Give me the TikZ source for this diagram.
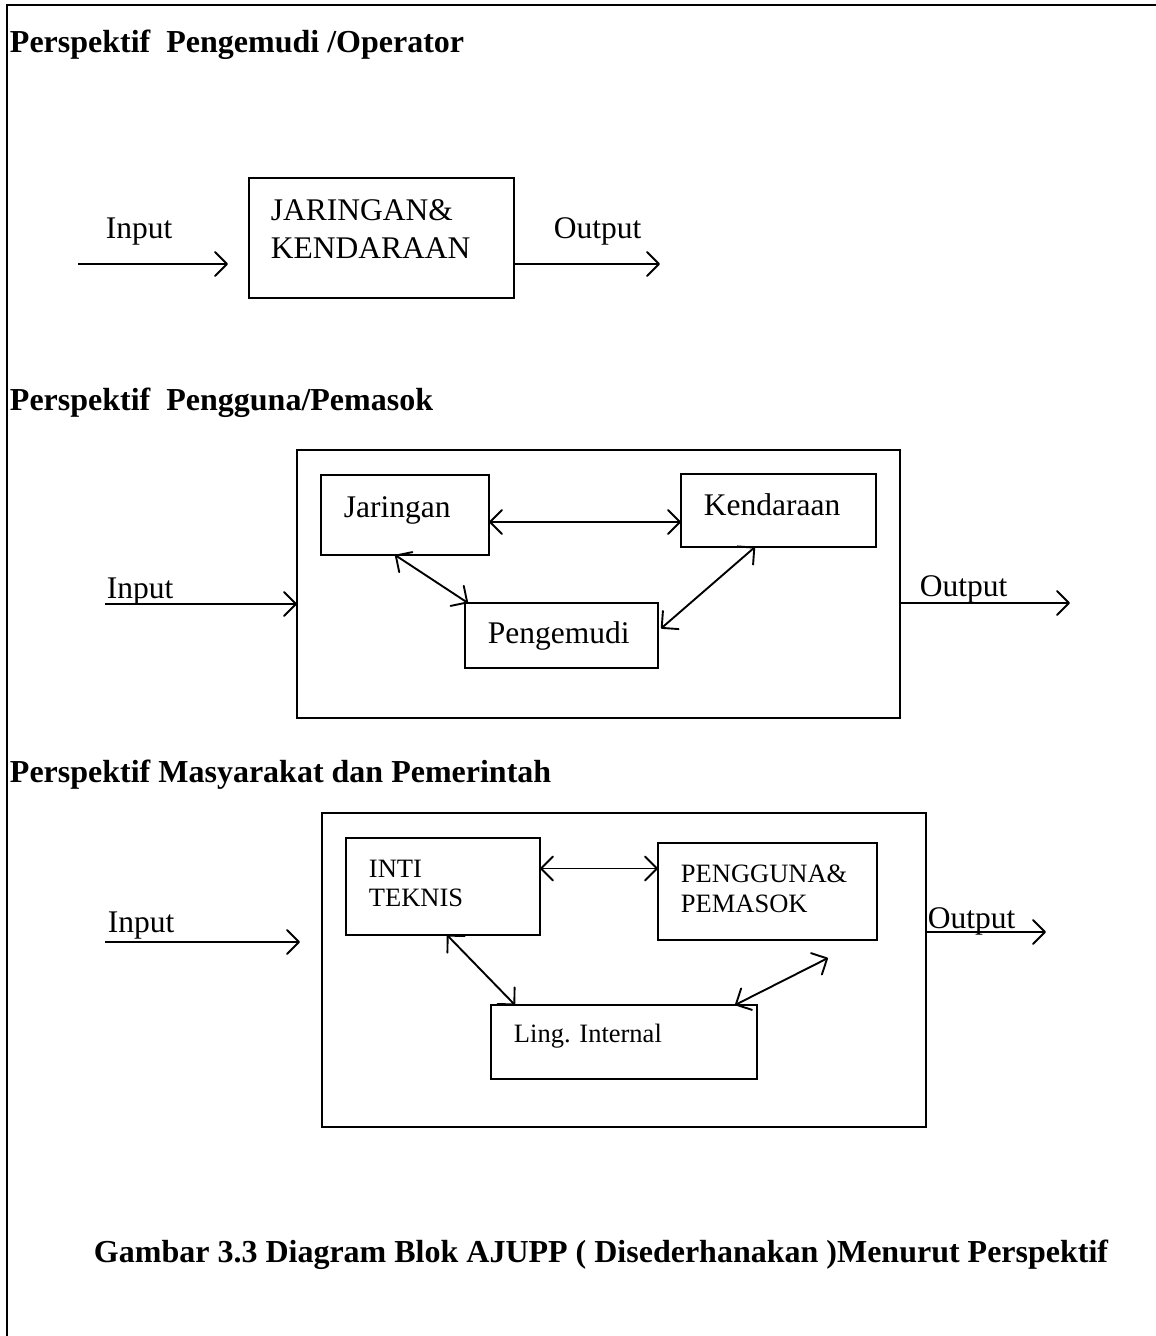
\documentclass[tikz,border=0pt]{standalone}
\usepackage{fontspec}
\setmainfont{Liberation Serif}
\usetikzlibrary{arrows.meta}
\begin{document}
\begin{tikzpicture}[x=1pt,y=-1pt,
  line width=1.9pt,
  blk/.style={draw, line width=1.9pt, anchor=north west, inner sep=0pt, outer sep=0pt},
  txt/.style={anchor=base west, inner sep=0pt, font=\fontsize{31.5}{36}\selectfont},
  stxt/.style={anchor=base west, inner sep=0pt, font=\fontsize{26.5}{30}\selectfont},
  head/.style={anchor=base west, inner sep=0pt, font=\bfseries\fontsize{32}{36}\selectfont},
  arr/.style={-{Straight Barb[length=12pt,width=24pt,round]}},
  darr/.style={{Straight Barb[length=12pt,width=24pt,round]}-{Straight Barb[length=12pt,width=24pt,round]}}
]
\useasboundingbox (0,0) rectangle (1156,1336);
% frame lines
\coordinate (ftl) at (7,5);
\coordinate (ftr) at (1156,5);
\coordinate (fbl) at (7,1336);
\draw[line width=1.9pt] (ftr) -- (ftl) -- (fbl);

% ---------- Section 1
\node[head] (h1) at (9,52) {Perspektif\ \ Pengemudi /Operator};
\node[blk, minimum width=265pt, minimum height=120pt] (jk) at (249,178) {};
\node[txt] (jkt1) at (270,220) {JARINGAN\&};
\node[txt] (jkt2) at (270,258) {KENDARAAN};
\node[txt] (in1l) at (105,238) {Input};
\node[txt] (out1l) at (553,238) {Output};
\coordinate (in1s) at (78,264);
\coordinate (in1e) at (228,264);
\coordinate (out1e) at (660,264);
\draw[arr] (in1s) -- (in1e);
\draw[arr] ([yshift=-26pt]jk.east) -- (out1e);

% ---------- Section 2
\node[head] (h2) at (9,410) {Perspektif\ \ Pengguna/Pemasok};
\node[blk, minimum width=603pt, minimum height=268pt] (o2) at (297,450) {};
\node[blk, minimum width=168pt, minimum height=80pt] (jar) at (321,475) {};
\node[blk, minimum width=195pt, minimum height=73pt] (ken) at (681,474) {};
\node[blk, minimum width=193pt, minimum height=65pt] (peng) at (465,603) {};
\node[txt] (jart) at (343,517) {Jaringan};
\node[txt] (kent) at (703,515) {Kendaraan};
\node[txt] (pengt) at (487,643) {Pengemudi};
\node[txt] (in2l) at (106,598) {Input};
\node[txt] (out2l) at (919,596) {Output};
\coordinate (in2s) at (105,604);
\coordinate (out2e) at (1070,603);
\draw[arr] (in2s) -- (o2.west |- in2s);
\draw[arr] ([yshift=-19pt]o2.east) -- (out2e);
\draw[darr] ([yshift=-7pt]jar.east) -- ([yshift=-7pt]jar.east -| ken.west);
\draw[darr] ([xshift=74pt]jar.south west) -- ([xshift=3pt]peng.north west);
\draw[darr] ([xshift=74pt]ken.south west) -- ([xshift=3pt,yshift=7pt]peng.east);

% ---------- Section 3
\node[head] (h3) at (9,782) {Perspektif Masyarakat dan Pemerintah};
\node[blk, minimum width=604pt, minimum height=314pt] (o3) at (322,813) {};
\node[blk, minimum width=194pt, minimum height=97pt] (inti) at (346,838) {};
\node[blk, minimum width=219pt, minimum height=97pt] (pp) at (658,843) {};
\node[blk, minimum width=266pt, minimum height=74pt] (ling) at (491,1005) {};
\node[stxt] (intit1) at (368,877) {INTI};
\node[stxt] (intit2) at (368,906) {TEKNIS};
\node[stxt] (ppt1) at (680,882) {PENGGUNA\&};
\node[stxt] (ppt2) at (680,912) {PEMASOK};
\node[stxt] (lingt) at (513,1042) {Ling. Internal};
\node[txt] (in3l) at (107,932) {Input};
\node[txt] (out3l) at (927,928) {Output};
\coordinate (in3s) at (105,942);
\coordinate (in3e) at (300,942);
\coordinate (out3e) at (1046,932);
\coordinate (lingfree) at (828,958);
\draw[arr] (in3s) -- (in3e);
\draw[arr] ([yshift=38pt]o3.east) -- (out3e);
\draw[darr] ([yshift=18pt]inti.east) -- ([yshift=18pt]inti.east -| pp.west);
\draw[darr] ([xshift=101pt]inti.south west) -- ([xshift=24pt]ling.north west);
\draw[darr] ([xshift=-22pt]ling.north east) -- (lingfree);

% ---------- Caption
\node[head] (cap) at (93,1262) {Gambar 3.3 Diagram Blok AJUPP ( Disederhanakan )Menurut Perspektif};
\end{tikzpicture}
\end{document}
